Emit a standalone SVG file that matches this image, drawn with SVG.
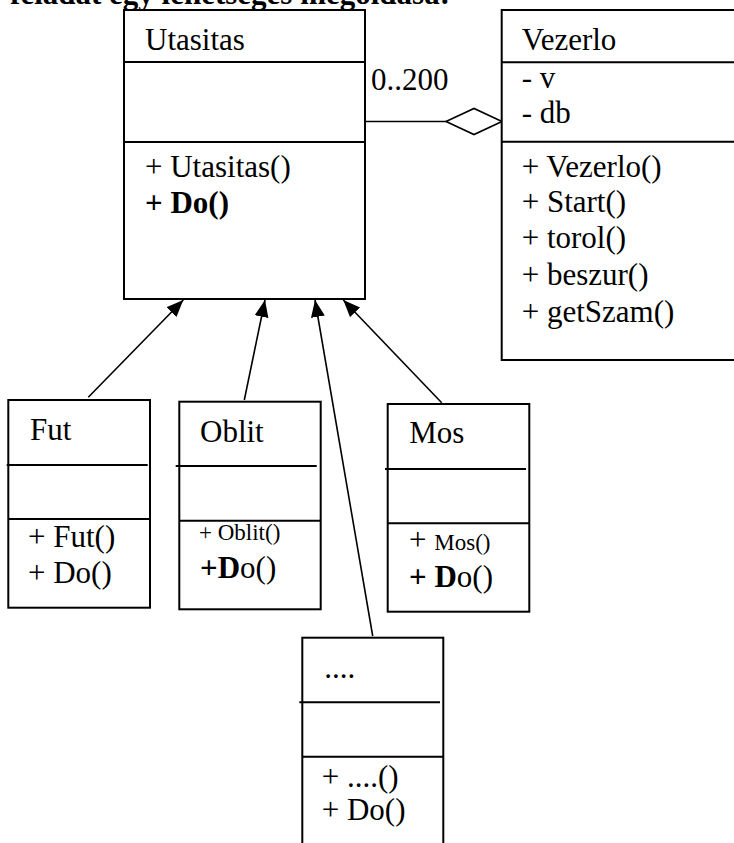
<svg xmlns="http://www.w3.org/2000/svg" width="734" height="843" viewBox="0 0 734 843">
<style>
text{font-family:"Liberation Serif","Times New Roman",serif;font-size:31px;fill:#000}
.b{font-weight:bold}
.s{font-size:23px}
.box{fill:#fff;stroke:#000;stroke-width:2}
.div{stroke:#000;stroke-width:2}
.con{stroke:#000;stroke-width:1.6;fill:none}
</style>
<defs>
<marker id="tri" markerUnits="userSpaceOnUse" markerWidth="20" markerHeight="16" refX="17" refY="7" orient="auto">
<path d="M0,0 L17,7 L0,14 Z" fill="#000"/>
</marker>
</defs>
<text class="b" x="450" y="4" text-anchor="end">feladat egy lehetséges megoldása:</text>
<g id="connectors">
<line class="con" x1="365" y1="121.5" x2="446" y2="121.5"/>
<path d="M446,121.5 L474,108.5 L502,121.5 L474,134.5 Z" fill="#fff" stroke="#000" stroke-width="1.6"/>
<text x="371" y="90">0..200</text>
<line class="con" x1="88.3" y1="397.3" x2="183.3" y2="300" marker-end="url(#tri)"/>
<line class="con" x1="244.3" y1="400" x2="265" y2="300" marker-end="url(#tri)"/>
<line class="con" x1="372.7" y1="636" x2="315" y2="300" marker-end="url(#tri)"/>
<line class="con" x1="441.7" y1="402.7" x2="343.3" y2="300" marker-end="url(#tri)"/>
</g>
<g id="Utasitas">
<rect class="box" x="124" y="10" width="241" height="289"/>
<line class="div" x1="124" y1="62" x2="365" y2="62"/>
<line class="div" x1="124" y1="142" x2="365" y2="142"/>
<text x="145" y="50">Utasitas</text>
<text x="145" y="177">+ Utasitas()</text>
<text class="b" x="145" y="213">+ Do()</text>
</g>
<g id="Vezerlo">
<rect class="box" x="501.7" y="10" width="240" height="350"/>
<line class="div" x1="501.7" y1="62.3" x2="740" y2="62.3"/>
<line class="div" x1="501.7" y1="141.7" x2="740" y2="141.7"/>
<text x="521.7" y="50">Vezerlo</text>
<text x="521.7" y="88">- v</text>
<text x="521.7" y="123">- db</text>
<text x="521.7" y="177">+ Vezerlo()</text>
<text x="521.7" y="212">+ Start()</text>
<text x="521.7" y="248">+ torol()</text>
<text x="521.7" y="285">+ beszur()</text>
<text x="521.7" y="322">+ getSzam()</text>
</g>
<g id="Fut">
<rect class="box" x="8.3" y="400" width="141.7" height="207.7"/>
<line class="div" x1="6.7" y1="465" x2="147.7" y2="465"/>
<line class="div" x1="8.3" y1="519" x2="150" y2="519"/>
<text x="30" y="440">Fut</text>
<text x="28" y="546.7">+ Fut()</text>
<text x="28" y="583">+ Do()</text>
</g>
<g id="Oblit">
<rect class="box" x="179.3" y="401.7" width="141.4" height="207.6"/>
<line class="div" x1="175.7" y1="466" x2="316.7" y2="466"/>
<line class="div" x1="179.3" y1="520.7" x2="320.7" y2="520.7"/>
<text x="200" y="441.7">Oblit</text>
<text class="s" x="199" y="540">+ Oblit()</text>
<text x="200" y="577.7"><tspan class="b">+D</tspan>o()</text>
</g>
<g id="Mos">
<rect class="box" x="387.7" y="404" width="141.6" height="207.7"/>
<line class="div" x1="385" y1="469" x2="526" y2="469"/>
<line class="div" x1="387.7" y1="523.3" x2="529.3" y2="523.3"/>
<text x="409.3" y="443.3">Mos</text>
<text x="409" y="550">+ <tspan class="s">Mos()</tspan></text>
<text x="409" y="586.7"><tspan class="b">+ D</tspan>o()</text>
</g>
<g id="Dots">
<rect class="box" x="302.3" y="637.7" width="141" height="220"/>
<line class="div" x1="299.3" y1="702.3" x2="440" y2="702.3"/>
<line class="div" x1="302.3" y1="756.7" x2="443.3" y2="756.7"/>
<text x="324.3" y="678.3">....</text>
<text x="321.7" y="786.7">+ ....()</text>
<text x="321.7" y="820">+ Do()</text>
</g>
</svg>
